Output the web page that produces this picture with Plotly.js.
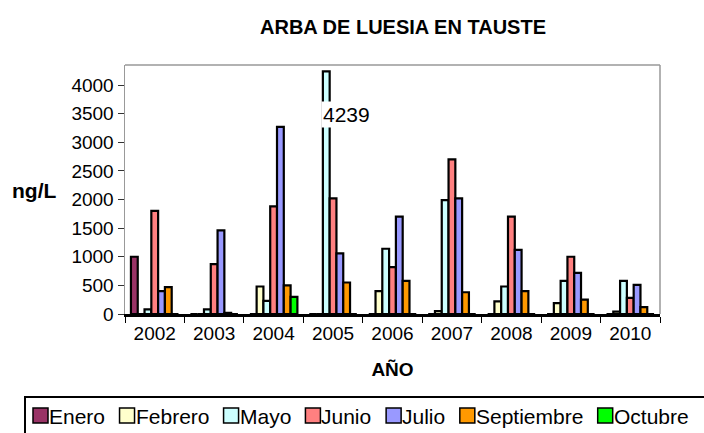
<!DOCTYPE html>
<html>
<head>
<meta charset="utf-8">
<script src="https://cdn.plot.ly/plotly-3.0.1.min.js"></script>
<style>html,body{margin:0;padding:0;background:#fff;}#chart{width:704px;height:433px;}</style>
</head>
<body>
<div id="chart"></div>
<script>
const years = ['2002','2003','2004','2005','2006','2007','2008','2009','2010'];
const enero      = [1000, 0, 0, 0, 0, 0, 0, 0, 0];
const febrero    = [0, 0, 480, 0, 400, 50, 220, 190, 40];
const mayo       = [80, 80, 230, 4239, 1140, 1990, 480, 580, 580];
const junio      = [1800, 870, 1880, 2020, 820, 2700, 1700, 1000, 280];
const julio      = [400, 1460, 3270, 1060, 1700, 2020, 1120, 720, 510];
const septiembre = [470, 20, 500, 550, 580, 380, 400, 250, 120];
const octubre    = [0, 0, 300, 0, 0, 0, 0, 0, 0];

const seriesNames = ['Enero','Febrero','Mayo','Junio','Julio','Septiembre','Octubre'];
const seriesData = [enero, febrero, mayo, junio, julio, septiembre, octubre];
const seriesColors = ['#993366','#FFFFCC','#CCFFFF','#FF8080','#9999FF','#FF9900','#00FF00'];

const W = 704, H = 433;
const M = {l: 125, r: 44, t: 65, b: 119};
const PW = W - M.l - M.r, PH = H - M.t - M.b;
const px2x = p => (p - M.l) / PW;
const px2y = p => (H - M.b - p) / PH;

const traces = seriesNames.map((n, i) => ({
  type: 'bar',
  name: n,
  x: years,
  y: seriesData[i],
  marker: {color: seriesColors[i], line: {color: '#000', width: 2.2}},
  hoverinfo: 'x+y+name'
}));

const FAM = 'Arial, "Liberation Sans", sans-serif';
const font = {family: FAM, color: '#000'};
const f = s => Object.assign({size: s}, font);
const peakIdx = mayo.indexOf(Math.max(...mayo));

// custom single-row legend (tight spacing like the original)
const legFont = 21;
const cv = document.createElement('canvas').getContext('2d');
cv.font = legFont + 'px "Liberation Sans", Arial, sans-serif';
const shapes = [
  {type: 'line', xref: 'paper', yref: 'paper', x0: 0, x1: 1, y0: 1, y1: 1, line: {color: '#999', width: 1.5}},
  {type: 'line', xref: 'paper', yref: 'paper', x0: 1, x1: 1, y0: 0, y1: 1, line: {color: '#999', width: 1.5}},
  {type: 'rect', xref: 'paper', yref: 'paper', x0: px2x(25), x1: px2x(712), y0: px2y(397), y1: px2y(440),
   line: {color: '#000', width: 2}, fillcolor: 'rgba(0,0,0,0)'}
];
const annotations = [
  {xref: 'paper', yref: 'paper', x: px2x(34), y: px2y(190), text: '<b>ng/L</b>', showarrow: false,
   font: f(21), xanchor: 'center', yanchor: 'middle'},
  {x: peakIdx, y: 3480, text: String(mayo[peakIdx]), showarrow: false, xshift: -12,
   xanchor: 'left', yanchor: 'middle', bgcolor: '#fff', font: f(21)}
];
let lx = 33;
seriesNames.forEach((n, i) => {
  shapes.push({type: 'rect', xref: 'paper', yref: 'paper', x0: px2x(lx), x1: px2x(lx + 15),
    y0: px2y(408), y1: px2y(423), fillcolor: seriesColors[i], line: {color: '#000', width: 1.5}});
  annotations.push({xref: 'paper', yref: 'paper', x: px2x(lx + 16), y: px2y(416), text: n, showarrow: false,
    xanchor: 'left', yanchor: 'middle', font: f(legFont), borderpad: 0, borderwidth: 0});
  lx += 18 + cv.measureText(n).width + 12.5;
});

const layout = {
  width: W, height: H,
  margin: M,
  paper_bgcolor: '#fff', plot_bgcolor: '#fff',
  font: f(19),
  title: {text: '<b>ARBA DE LUESIA EN TAUSTE</b>', font: f(20), x: 403 / W, xanchor: 'center', y: 1 - 27 / H, yanchor: 'middle'},
  barmode: 'group', bargap: 0.2, bargroupgap: 0,
  showlegend: false,
  xaxis: {type: 'category', showline: true, linecolor: '#000', linewidth: 3,
          ticks: 'outside', tickson: 'boundaries', ticklen: 6, tickcolor: '#000', tickangle: 0,
          tickfont: f(19), showgrid: false,
          title: {text: '<b>AÑO</b>', font: f(19), standoff: 20}},
  yaxis: {range: [0, 4350], tickvals: [0,500,1000,1500,2000,2500,3000,3500,4000],
          showline: true, linecolor: '#999', linewidth: 1.5, ticks: 'outside', ticklen: 6, tickcolor: '#333',
          tickfont: f(19), showgrid: false, zeroline: false},
  shapes: shapes,
  annotations: annotations
};

Plotly.newPlot('chart', traces, layout, {staticPlot: true, displayModeBar: false});
</script>
</body>
</html>
